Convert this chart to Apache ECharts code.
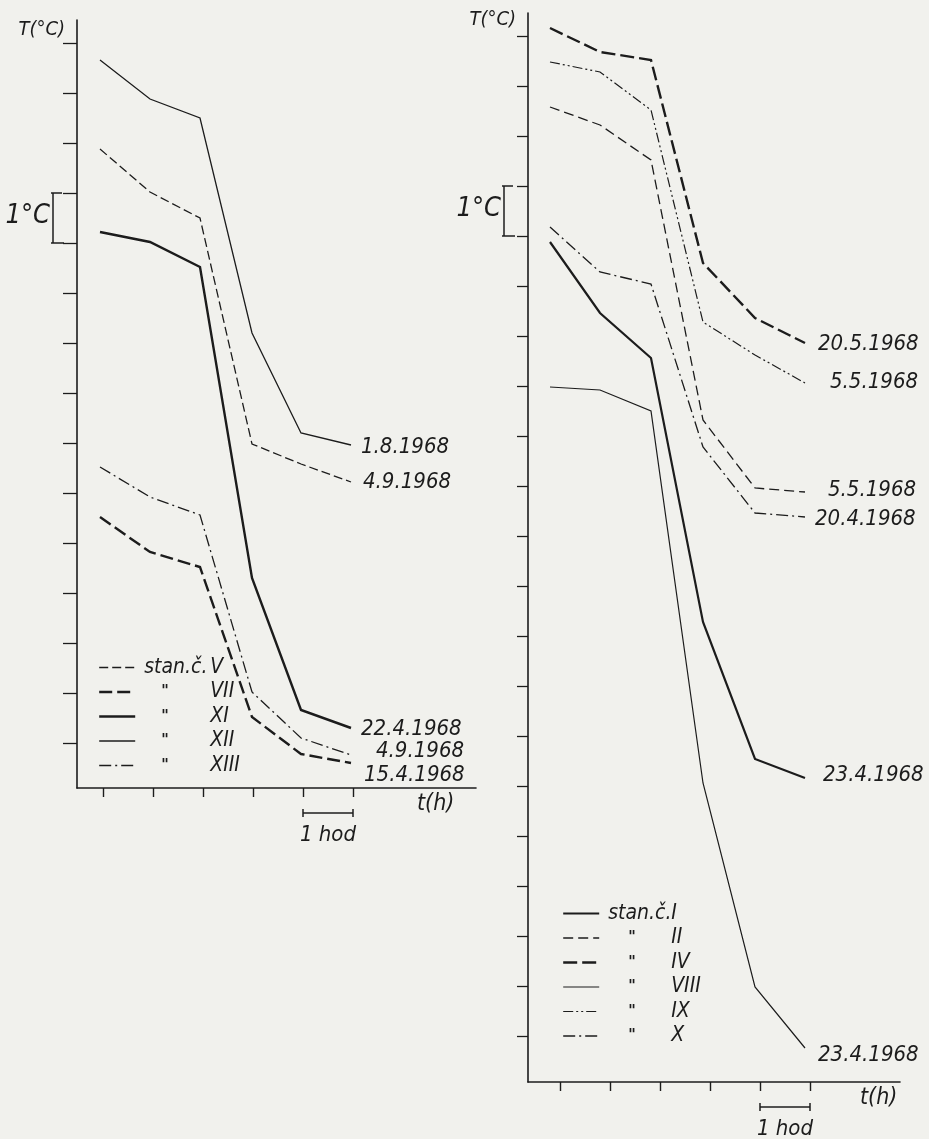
<!DOCTYPE html>
<html>
<head>
<meta charset="utf-8">
<script src="https://cdn.jsdelivr.net/npm/echarts@6/dist/echarts.min.js"></script>
<style>
html,body{margin:0;padding:0;background:#f1f1ed;}
#c{width:929px;height:1139px;}
</style>
</head>
<body>
<div id="c"></div>
<script>
// ---------- DATA (relative temperature in °C, time in hours) ----------
// left panel
const hoursLeft   = [-0.06, 0.94, 1.94, 2.98, 3.96, 4.96];
const stationsLeft = ['V', 'VII', 'XI', 'XII', 'XIII'];
const datesLeft    = ['4.9.1968', '15.4.1968', '22.4.1968', '1.8.1968', '4.9.1968'];
const tempV    = [11.88, 11.02, 10.50, 5.98, 5.58, 5.22];
const tempVII  = [4.52, 3.82, 3.52, 0.52, -0.22, -0.40];
const tempXI   = [10.22, 10.02, 9.52, 3.30, 0.66, 0.30];
const tempXII  = [13.66, 12.88, 12.50, 8.20, 6.20, 5.96];
const tempXIII = [5.52, 4.92, 4.56, 1.02, 0.10, -0.24];

// right panel
const hoursRight   = [-0.20, 0.80, 1.82, 2.86, 3.90, 4.90];
const stationsRight = ['I', 'II', 'IV', 'VIII', 'IX', 'X'];
const datesRight    = ['23.4.1968', '5.5.1968', '20.5.1968', '23.4.1968', '5.5.1968', '20.4.1968'];
const tempI    = [15.88, 14.46, 13.56, 8.28, 5.54, 5.16];
const tempII   = [18.58, 18.22, 17.52, 12.32, 10.96, 10.88];
const tempIV   = [20.16, 19.68, 19.52, 15.46, 14.36, 13.86];
const tempVIII = [12.98, 12.92, 12.50, 5.06, 0.98, -0.24];
const tempIX   = [19.48, 19.28, 18.52, 14.28, 13.62, 13.06];
const tempX    = [16.18, 15.28, 15.04, 11.78, 10.46, 10.38];

// tick positions (unlabelled)
const hourTicks       = [0, 1, 2, 3, 4, 5];
const tempTicksLeft   = [0,1,2,3,4,5,6,7,8,9,10,11,12,13,14];
const tempTicksRight  = [0,1,2,3,4,5,6,7,8,9,10,11,12,13,14,15,16,17,18,19,20];

// ---------- STYLE ----------
const INK = '#1c1c1c';
const NARROW = "'DejaVu Sans Condensed', 'DejaVu Sans', sans-serif";
const COND = "'DejaVu Sans Condensed', 'DejaVu Sans', sans-serif";

const seriesStyle = {
  V:    {w: 1.3, t: [9, 4],          off: [7, 0]},
  VII:  {w: 2.4, t: [13, 5],         off: [8, 12]},
  XI:   {w: 2.4, t: 'solid',         off: [5, 1]},
  XII:  {w: 1.3, t: 'solid',         off: [5, 2]},
  XIII: {w: 1.3, t: [12, 4, 2, 4],   off: [20, -4]},
  I:    {w: 2.2, t: 'solid',         off: [13, -3]},
  II:   {w: 1.3, t: [10, 5],         off: [18, -2]},
  IV:   {w: 2.4, t: [14, 5],         off: [8, 1]},
  VIII: {w: 1.2, t: 'solid',         off: [8, 7]},
  IX:   {w: 1.2, t: [10, 3, 2, 3, 2, 3], off: [20, -1]},
  X:    {w: 1.3, t: [12, 4, 2, 4],   off: [5, 2]}
};

function mkSeries(name, hours, temps, date, g) {
  const st = seriesStyle[name];
  return {
    type: 'line', name: name, xAxisIndex: g, yAxisIndex: g,
    data: hours.map((h, i) => [h, temps[i]]),
    symbol: 'none', silent: true, animation: false,
    lineStyle: {color: INK, width: st.w, type: st.t, cap: 'butt', join: 'miter'},
    itemStyle: {color: INK},
    endLabel: {
      show: true, formatter: date, color: INK, fontFamily: NARROW,
      fontStyle: 'italic', fontSize: 22, offset: st.off,
      align: 'left', verticalAlign: 'middle', distance: 5
    }
  };
}

const leftTemps  = [tempV, tempVII, tempXI, tempXII, tempXIII];
const rightTemps = [tempI, tempII, tempIV, tempVIII, tempIX, tempX];
const series = [];
stationsLeft.forEach((s, i) => series.push(mkSeries(s, hoursLeft, leftTemps[i], datesLeft[i], 0)));
stationsRight.forEach((s, i) => series.push(mkSeries(s, hoursRight, rightTemps[i], datesRight[i], 1)));

function xAx(g, min, max) {
  return {
    gridIndex: g, type: 'value', min: min, max: max,
    axisLine: {onZero: false, lineStyle: {color: INK, width: 1.6}},
    axisTick: {show: true, customValues: hourTicks, length: 9, lineStyle: {color: INK, width: 1.4}},
    axisLabel: {show: false}, splitLine: {show: false}
  };
}
function yAx(g, min, max, ticks, len) {
  return {
    gridIndex: g, type: 'value', min: min, max: max,
    axisLine: {onZero: false, lineStyle: {color: INK, width: 1.6}},
    axisTick: {show: true, customValues: ticks, length: len, lineStyle: {color: INK, width: 1.3}},
    axisLabel: {show: false}, splitLine: {show: false}
  };
}

function legendFor(names, left, top, sW, dPad, gap) {
  return {
    data: names.map(n => ({name: n, lineStyle: {width: seriesStyle[n].w}})),
    orient: 'vertical', left: left, top: top,
    itemWidth: 36, itemHeight: 14, itemGap: gap,
    selectedMode: false,
    itemStyle: {color: 'rgba(0,0,0,0)', borderColor: 'rgba(0,0,0,0)', borderWidth: 0, opacity: 0},
    formatter: function (name) {
      return (name === names[0] ? '{s|stan.č.}' : '{d|"}') + '{n|' + name + '}';
    },
    textStyle: {
      color: INK, fontFamily: COND, fontStyle: 'italic', fontSize: 20, lineHeight: 20,
      rich: {
        s: {width: sW, padding: [0, 0, 0, 4], fontFamily: COND, fontStyle: 'italic', fontSize: 21, lineHeight: 20, color: INK},
        d: {width: sW - dPad, padding: [0, 0, 0, 4 + dPad], fontFamily: COND, fontStyle: 'italic', fontWeight: 'bold', fontSize: 16, lineHeight: 20, color: INK},
        n: {fontFamily: NARROW, fontStyle: 'italic', fontSize: 21, lineHeight: 20, color: INK}
      }
    }
  };
}

const chart = echarts.init(document.getElementById('c'));
const option = {
  backgroundColor: '#f1f1ed',
  animation: false,
  grid: [
    {left: 77, top: 20, width: 399, height: 768, outerBoundsMode: 'none'},
    {left: 528, top: 13, width: 372, height: 1069, outerBoundsMode: 'none'}
  ],
  xAxis: [xAx(0, -0.52, 7.46), xAx(1, -0.64, 6.8)],
  yAxis: [yAx(0, -0.9, 14.46, tempTicksLeft, 14), yAx(1, -0.92, 20.46, tempTicksRight, 11)],
  legend: [
    legendFor(stationsLeft, 93, 652, 66, 17, 3.5),
    legendFor(stationsRight, 557, 898, 63, 20, 3.5)
  ],
  series: series
};
chart.setOption(option);

// ---------- annotations anchored on the axes' scales ----------
function P(g, x, y) { return chart.convertToPixel({xAxisIndex: g, yAxisIndex: g}, [x, y]); }
const txt = (x, y, s, size, align, font) => ({
  type: 'text', x: x, y: y, silent: true,
  style: {text: s, fill: INK, font: 'italic ' + size + 'px ' + (font || NARROW), align: align, verticalAlign: 'middle'}
});
const seg = (x1, y1, x2, y2, w) => ({
  type: 'line', silent: true, shape: {x1: x1, y1: y1, x2: x2, y2: y2},
  style: {stroke: INK, lineWidth: w || 1.4}
});

const g = [];
function panel(gi, xmin, ymin, ymax, brLow, tOff) {
  const origin = P(gi, xmin, ymin);
  const top = P(gi, xmin, ymax);
  const ax = origin[0], by = origin[1];
  // T(°C)
  g.push(txt(ax - 12, top[1] + tOff, 'T(°C)', 20, 'right'));
  // 1°C bracket
  const b1 = P(gi, xmin, brLow + 1)[1], b0 = P(gi, xmin, brLow)[1];
  const bx = ax - 24;
  g.push(seg(bx, b1, bx, b0, 1.5), seg(bx - 2, b1, bx + 9, b1, 1.5), seg(bx - 2, b0, bx + 11, b0, 1.5));
  g.push(txt(bx - 3, (b0 + b1) / 2 - 2, '1°C', 27, 'right'));
  // t(h)
  const th = P(gi, gi === 0 ? 6.28 : 6.0, ymin);
  g.push(txt(th[0], by + 16, 't(h)', 23, 'left'));
  // 1 hod scale bar
  const h4 = P(gi, 4, ymin)[0], h5 = P(gi, 5, ymin)[0];
  const sy = by + 25;
  g.push(seg(h4, sy, h5, sy, 1.5), seg(h4, sy - 4, h4, sy + 4, 1.5), seg(h5, sy - 4, h5, sy + 4, 1.5));
  g.push(txt((h4 + h5) / 2, sy + 22, '1 hod', 22, 'center'));
}
panel(0, -0.52, -0.9, 14.46, 10, 10);
panel(1, -0.64, -0.92, 20.46, 16, 7);
chart.setOption({graphic: g});
</script>
</body>
</html>
